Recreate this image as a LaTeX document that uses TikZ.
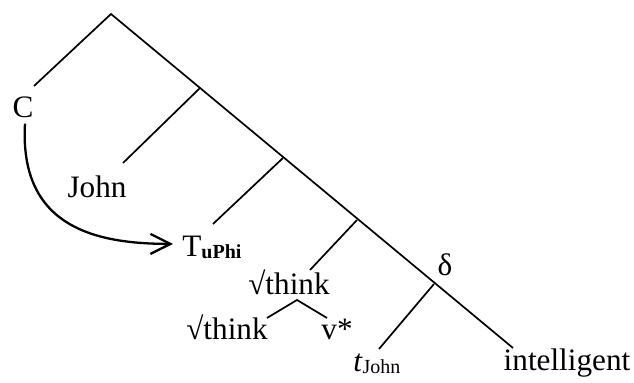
\documentclass[tikz,border=0pt]{standalone}
\usepackage{fontspec}
\setmainfont{Liberation Serif}
\usetikzlibrary{arrows.meta}
\newcommand{\subtext}[1]{\raisebox{-1pt}{\fontsize{10}{11}\selectfont #1}}
\begin{document}
\begin{tikzpicture}[x=0.5pt, y=-0.5pt, font=\fontsize{15.6}{18}\selectfont,
		branch/.style={line width=0.85pt},
		move/.style={line width=1.15pt, -{Straight Barb[length=10pt, width=10pt, line width=1.15pt]}},
		lbl/.style={inner sep=0pt, anchor=base}]
				\useasboundingbox (0,0) rectangle (634,383);
				% spine and branch points
				\coordinate (root) at (111,14);
				\coordinate (p1) at (200,88);
				\coordinate (p2) at (283,158);
				\coordinate (p3) at (357,220);
				\coordinate (p4) at (434,284);
				\coordinate (low) at (513,348);
				\coordinate (cEnd) at (34,86);
				\coordinate (johnEnd) at (123,163);
				\coordinate (tEnd) at (213,224);
				\coordinate (thinkEnd) at (310,270);
				\coordinate (traceEnd) at (379,349);
				\coordinate (head) at (297,300);
				\coordinate (headL) at (267,318);
				\coordinate (headR) at (327,318);
				% labels
				\node[lbl] (C) at (23,118) {C};
				\node[lbl] (John) at (97,198) {John};
				\node[lbl, anchor=base west] (T) at (182,257) {T\subtext{\bfseries uPhi}};
				\node[lbl] (think) at (289,295) {√think};
				\node[lbl] (root2) at (227,340) {√think};
				\node[lbl] (vstar) at (337,340) {v*};
				\node[lbl, anchor=base west] (trace) at (353,372) {\textit{t}\subtext{John}};
				\node[lbl] (delta) at (445,276) {δ};
				\node[lbl] (pred) at (567,371) {intelligent};
				% branches
				\draw[branch] (cEnd) -- (root) -- (low);
				\draw[branch] (p1) -- (johnEnd);
				\draw[branch] (p2) -- (tEnd);
				\draw[branch] (p3) -- (thinkEnd);
				\draw[branch] (p4) -- (traceEnd);
				\draw[branch] (headL) -- (head) -- (headR);
				% movement
				\draw[move] ([shift={(2,5)}]C.south) .. controls +(-6,105) and +(-75,0) .. ([shift={(-9,-4)}]T.west);
			\end{tikzpicture}
\end{document}
